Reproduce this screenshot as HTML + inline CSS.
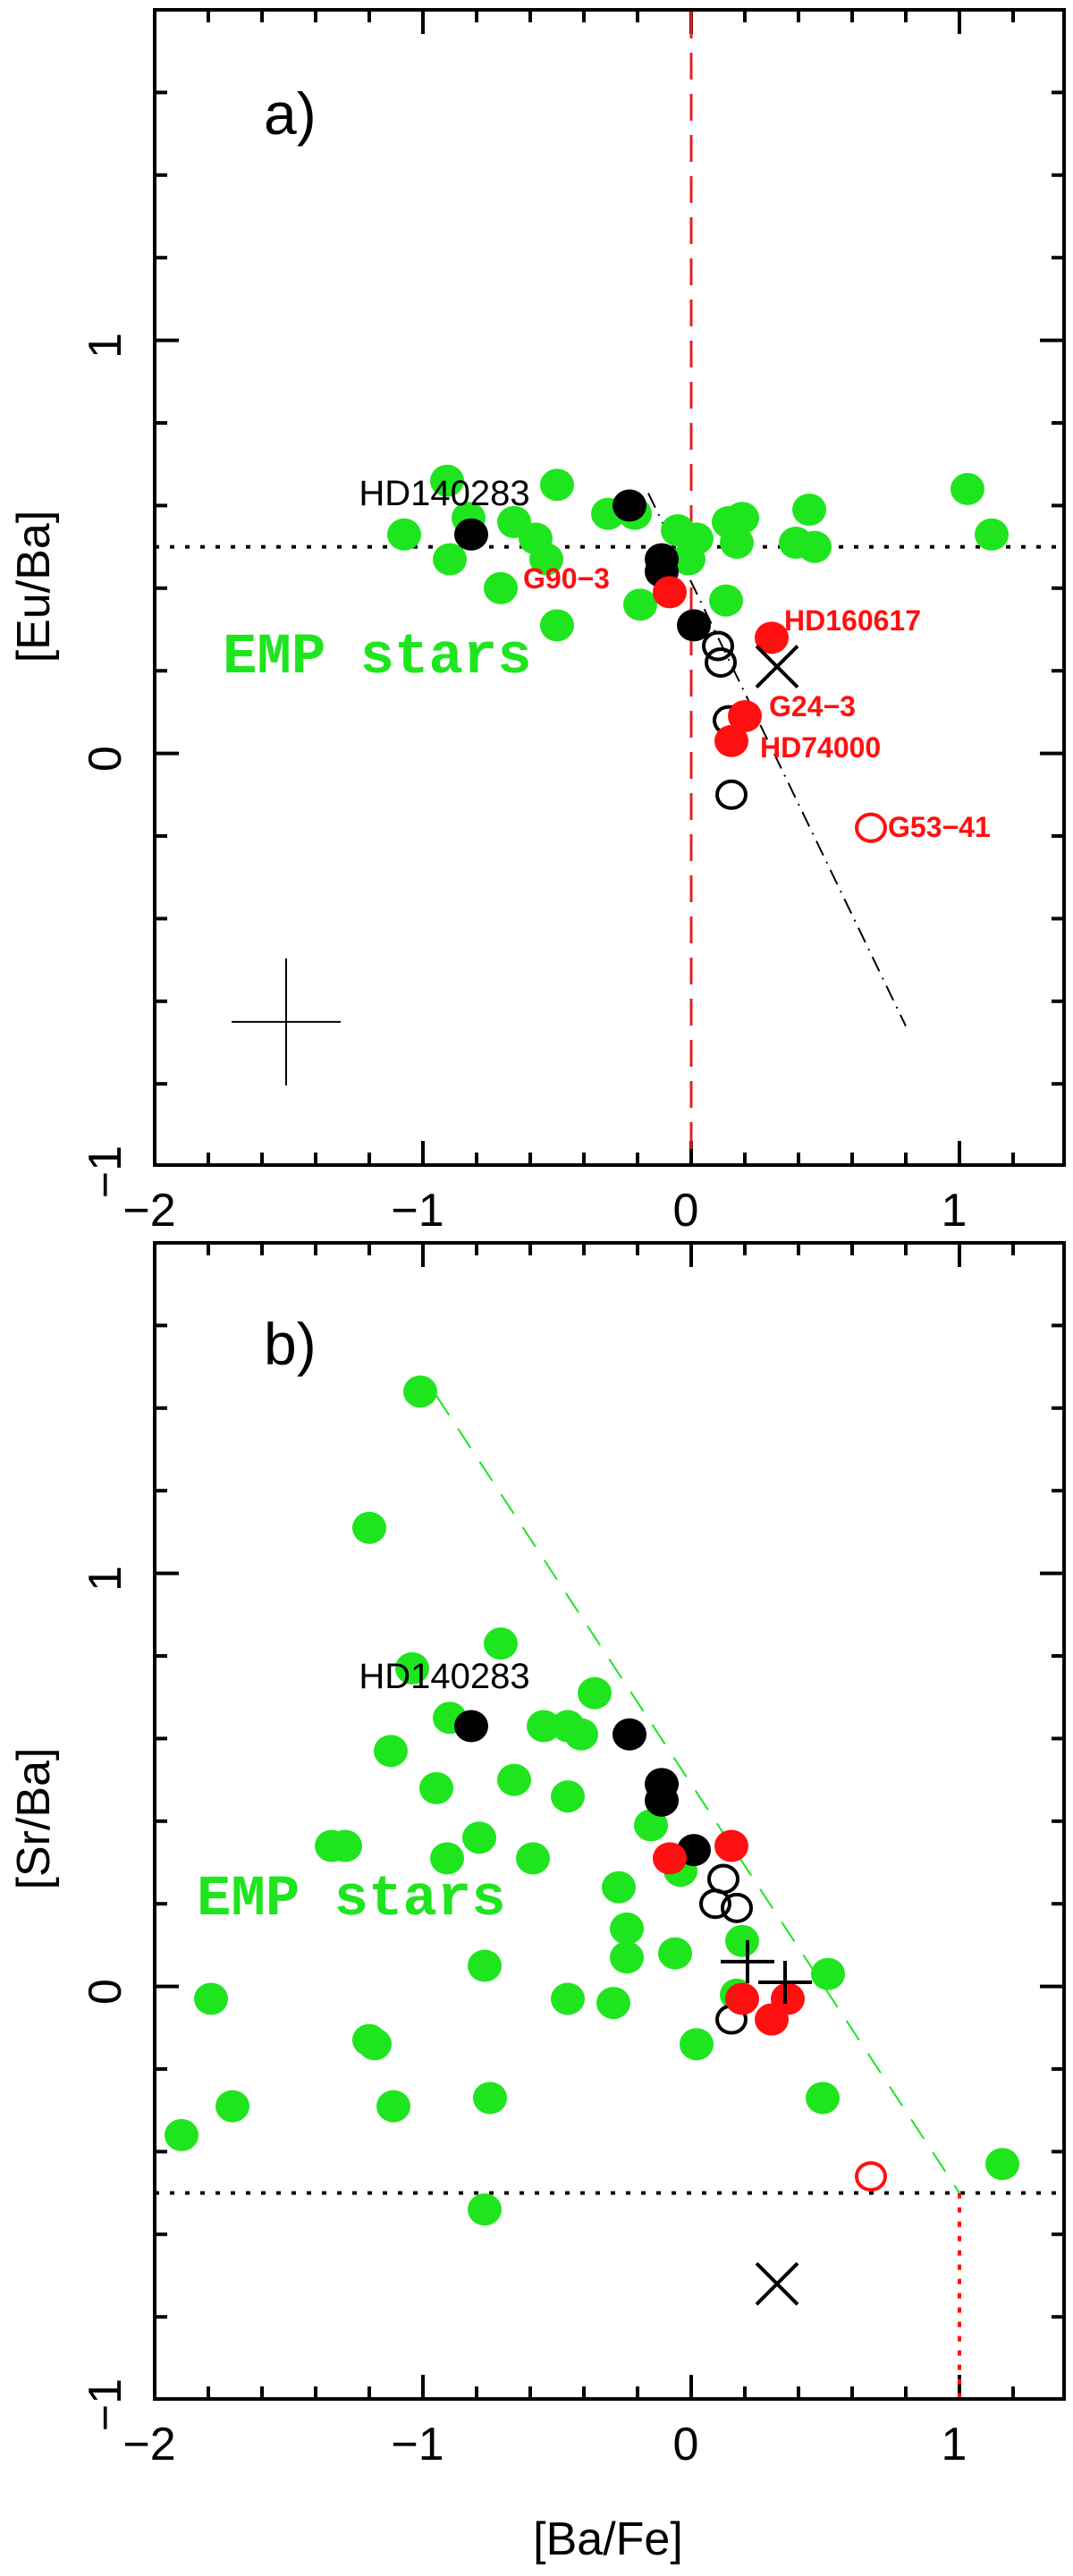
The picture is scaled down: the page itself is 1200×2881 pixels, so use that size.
<!DOCTYPE html>
<html><head><meta charset="utf-8"><style>
html,body{margin:0;padding:0;background:#fff;}
svg{display:block;}
text{font-family:"Liberation Sans",sans-serif;}
</style></head><body>
<svg id="chart" width="1200" height="2881" viewBox="0 0 1200 2881" xmlns="http://www.w3.org/2000/svg"></svg>
<script>
// Panel a data: [Eu/Ba] vs [Ba/Fe]
const aGreenX=[-1.07,-0.91,-0.90,-0.83,-0.71,-0.66,-0.58,-0.54,-0.50,-0.50,-0.31,-0.21,-0.19,-0.05,-0.01,0.02,0.13,0.14,0.19,0.17,0.39,0.44,0.46,1.03,1.12];
const aGreenY=[0.53,0.66,0.47,0.57,0.40,0.56,0.52,0.47,0.65,0.31,0.58,0.58,0.36,0.54,0.47,0.52,0.37,0.56,0.57,0.51,0.51,0.59,0.50,0.64,0.53];
const aBlackX=[-0.82,-0.23,-0.11,-0.11,0.01];
const aBlackY=[0.53,0.60,0.47,0.44,0.31];
const aRedX=[-0.08,0.30,0.20,0.15];
const aRedY=[0.39,0.28,0.09,0.03];
const aOpenX=[0.10,0.11,0.14,0.15];
const aOpenY=[0.26,0.22,0.08,-0.10];
const aOpenRedX=[0.67];
const aOpenRedY=[-0.18];
const aCrossX=[0.32];
const aCrossY=[0.21];
// Panel b data: [Sr/Ba] vs [Ba/Fe]
const bGreenX=[-1.01,-1.20,-0.71,-1.04,-0.36,-0.90,-0.55,-0.46,-0.41,-1.12,-0.95,-0.66,-0.46,-1.34,-1.29,-0.79,-0.91,-0.59,-0.15,-0.04,-0.27,-0.24,-0.24,-0.06,0.19,0.51,-0.77,-1.79,-0.46,-0.29,0.17,0.02,-1.20,-1.18,-1.71,-1.11,-0.75,0.49,-1.90,1.16,-0.77];
const bGreenY=[1.44,1.11,0.83,0.77,0.71,0.65,0.63,0.63,0.61,0.57,0.48,0.50,0.46,0.34,0.34,0.36,0.31,0.31,0.39,0.28,0.24,0.14,0.07,0.08,0.11,0.03,0.05,-0.03,-0.03,-0.04,-0.02,-0.14,-0.13,-0.14,-0.29,-0.29,-0.27,-0.27,-0.36,-0.43,-0.54];
const bBlackX=[-0.82,-0.23,-0.11,-0.11,0.01];
const bBlackY=[0.63,0.61,0.49,0.45,0.33];
const bRedX=[-0.08,0.15,0.19,0.36,0.30];
const bRedY=[0.31,0.34,-0.03,-0.03,-0.08];
const bOpenX=[0.12,0.09,0.17,0.15];
const bOpenY=[0.26,0.20,0.19,-0.08];
const bOpenRedX=[0.67];
const bOpenRedY=[-0.46];
const bCrossX=[0.32];
const bCrossY=[-0.72];
const bPlusX=[0.21,0.35];
const bPlusY=[0.06,0.01];
const xTicks=[-2,-1,0,1];
const yTicks=[-1,0,1];

const NS='http://www.w3.org/2000/svg';
const svg=document.getElementById('chart');
function el(tag,attrs,parent){const e=document.createElementNS(NS,tag);for(const k in attrs)e.setAttribute(k,attrs[k]);(parent||svg).appendChild(e);return e;}
const L=173,R=1190,XMIN=-2,XMAX=1.39;
function sx(v){return L+(v-XMIN)*300;}
function makeY(top,yTop){return v=>top+(yTop-v)*462;}

function panel(top,bottom,pname){
  const g=el('g',{});
  
  
  const f=el('rect',{x:L,y:top,width:R-L,height:bottom-top,fill:'none',stroke:'#000','stroke-width':4},g);
  
  
  const sy=makeY(top,1.8);
  for(let i=-10;i<=6;i++){const v=i*0.2;const x=sx(v);if(x<L+2||x>R-2)continue;const major=Math.abs(v-Math.round(v))<1e-6;const len=major?27:14;
    el('line',{x1:x,y1:bottom,x2:x,y2:bottom-len,stroke:'#000','stroke-width':4},g);
    el('line',{x1:x,y1:top,x2:x,y2:top+len,stroke:'#000','stroke-width':4},g);}
  for(let i=-5;i<=9;i++){const v=i*0.2;const y=sy(v);if(y<top+2||y>bottom-2)continue;const major=Math.abs(v-Math.round(v))<1e-6;const len=major?27:14;
    el('line',{x1:L,y1:y,x2:L+len,y2:y,stroke:'#000','stroke-width':4},g);
    el('line',{x1:R,y1:y,x2:R-len,y2:y,stroke:'#000','stroke-width':4},g);}
  xTicks.forEach(v=>{const t=el('text',{x:sx(v)-6,y:bottom+68,'font-size':52,'text-anchor':'middle'},g);t.textContent=v<0?'\u2212'+(-v):String(v);
    });
  yTicks.forEach(v=>{const y=sy(v);const t=el('text',{x:0,y:0,'font-size':52,'text-anchor':'middle',transform:`translate(135,${y+6}) rotate(-90)`},g);t.textContent=v<0?'\u2212'+(-v):String(v);
    });
  return {g,sy};
}
function dots(g,xs,ys,sy,fill,stroke,name){
  xs.forEach((v,i)=>{const c=el('ellipse',{cx:sx(v),cy:sy(ys[i]),rx:fill==='none'?16:19,ry:fill==='none'?15:18,fill:fill,stroke:stroke,'stroke-width':fill==='none'?4:0},g);
    });
}
function crosses(g,xs,ys,sy,name){
  xs.forEach((v,i)=>{const x=sx(v),y=sy(ys[i]);const p=el('path',{d:`M${x-23} ${y-23}L${x+23} ${y+23}M${x-23} ${y+23}L${x+23} ${y-23}`,stroke:'#000','stroke-width':4,fill:'none'},g);
    });
}
function txt(g,x,y,s,attrs,name){const t=el('text',Object.assign({x:x,y:y},attrs),g);t.textContent=s;return t;}
const mono='font-family:"Liberation Mono",monospace;font-weight:bold';

// Panel a
const A=panel(11,1303,'panel-a');
const sa=A.sy,ga=A.g;
el('line',{x1:sx(0),y1:13,x2:sx(0),y2:1301,stroke:'#e62020','stroke-width':3,'stroke-dasharray':'30,16'},ga);
el('line',{x1:L,y1:sa(0.5),x2:R,y2:sa(0.5),stroke:'#000','stroke-width':4,'stroke-dasharray':'5,12'},ga);
el('line',{x1:sx(-0.16),y1:sa(0.63),x2:sx(0.80),y2:sa(-0.66),stroke:'#000','stroke-width':2,'stroke-dasharray':'18,8,2,8'},ga);
dots(ga,aGreenX,aGreenY,sa,'#1fe51f','none','emp-star');
dots(ga,aBlackX,aBlackY,sa,'#000','none','black-star');
dots(ga,aOpenX,aOpenY,sa,'none','#000','open-star');
dots(ga,aRedX,aRedY,sa,'#ff1010','none','red-star');
dots(ga,aOpenRedX,aOpenRedY,sa,'none','#ff1010','g53-41-point');
crosses(ga,aCrossX,aCrossY,sa,'cross-marker');
{const x=sx(-1.51),y=sa(-0.65);el('path',{d:`M${x-61} ${y}H${x+61}M${x} ${y-71}V${y+71}`,stroke:'#000','stroke-width':2},ga);}
txt(ga,295,150,'a)',{'font-size':66},'panel-label-a');
txt(ga,497,565,'HD140283',{'font-size':40,'text-anchor':'middle'},'label-hd140283');
txt(ga,585,658,'G90\u22123',{'font-size':32,'font-weight':'bold',fill:'#ff1010'},'label-g90-3');
txt(ga,877,705,'HD160617',{'font-size':32,'font-weight':'bold',fill:'#ff1010'},'label-hd160617');
txt(ga,860,801,'G24\u22123',{'font-size':32,'font-weight':'bold',fill:'#ff1010'},'label-g24-3');
txt(ga,850,847,'HD74000',{'font-size':32,'font-weight':'bold',fill:'#ff1010'},'label-hd74000');
txt(ga,993,936,'G53\u221241',{'font-size':32,'font-weight':'bold',fill:'#ff1010'},'label-g53-41');
txt(ga,249,752,'EMP stars',{'font-size':64,fill:'#1fe51f',style:mono},'emp-stars-label');
txt(ga,0,0,'[Eu/Ba]',{'font-size':52,'text-anchor':'middle',transform:'translate(55,656) rotate(-90)'},'y-axis-title-a');

// Panel b
const B=panel(1390,2683,'panel-b');
const sb=B.sy,gb=B.g;
el('line',{x1:L,y1:sb(-0.5),x2:R,y2:sb(-0.5),stroke:'#000','stroke-width':4,'stroke-dasharray':'5,12'},gb);
el('line',{x1:sx(1),y1:sb(-0.5),x2:sx(1),y2:2681,stroke:'#ff1010','stroke-width':4,'stroke-dasharray':'6,10'},gb);
el('line',{x1:sx(-0.95),y1:sb(1.43),x2:sx(1.0),y2:sb(-0.5),stroke:'#1fe51f','stroke-width':2,'stroke-dasharray':'26,18'},gb);
dots(gb,bGreenX,bGreenY,sb,'#1fe51f','none','emp-star');
dots(gb,bBlackX,bBlackY,sb,'#000','none','black-star');
dots(gb,bOpenX,bOpenY,sb,'none','#000','open-star');
dots(gb,bRedX,bRedY,sb,'#ff1010','none','red-star');
dots(gb,bOpenRedX,bOpenRedY,sb,'none','#ff1010','open-red-star');
crosses(gb,bCrossX,bCrossY,sb,'cross-marker');
bPlusX.forEach((v,i)=>{const x=sx(v),y=sb(bPlusY[i]);const p=el('path',{d:`M${x-30} ${y}H${x+30}M${x} ${y-24}V${y+24}`,stroke:'#000','stroke-width':4},gb);
  });
txt(gb,295,1526,'b)',{'font-size':66},'panel-label-b');
txt(gb,497,1888,'HD140283',{'font-size':40,'text-anchor':'middle'},'label-hd140283');
txt(gb,220,2141,'EMP stars',{'font-size':64,fill:'#1fe51f',style:mono},'emp-stars-label');
txt(gb,0,0,'[Sr/Ba]',{'font-size':52,'text-anchor':'middle',transform:'translate(55,2034) rotate(-90)'},'y-axis-title-b');
txt(gb,680,2857,'[Ba/Fe]',{'font-size':52,'text-anchor':'middle'},'x-axis-title');
</script>
</body></html>
